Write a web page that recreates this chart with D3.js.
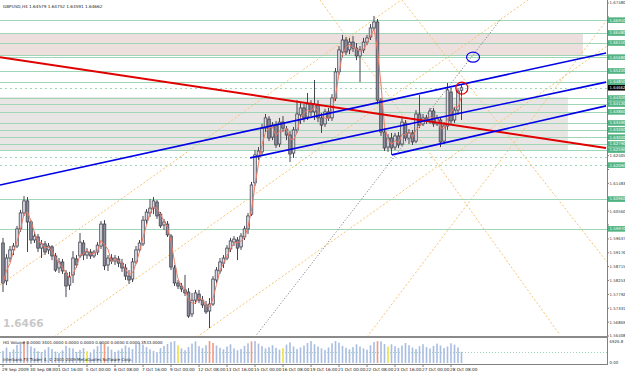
<!DOCTYPE html>
<html><head><meta charset="utf-8">
<script src="https://cdn.jsdelivr.net/npm/d3@7"></script>
<style>
html,body{margin:0;padding:0;background:#fff;overflow:hidden;}
svg{display:block;font-family:"DejaVu Sans",sans-serif;}
</style></head><body>
<svg id="c" width="625" height="372"></svg>
<script>
const titleText = "GBPUSD,H4  1.64579 1.64752 1.63591 1.64662";
const volText = "HG Volume 0.0000 3401.0000 0.0000 0.0000 0.0000 0.0000 0.0000 3533.0000";
const footText = "Interbank FX Trader 4, \u00a9 2001-2009 MetaQuotes Software Corp.";
const watermark = "1.6466";

const open = [1.5950,1.5824,1.5900,1.5927,1.5940,1.5997,1.6050,1.6090,1.6020,1.5960,
1.5970,1.5933,1.5947,1.5927,1.5937,1.5907,1.5867,1.5887,1.5850,1.5810,
1.5844,1.5897,1.5907,1.5950,1.5910,1.5920,1.5907,1.5920,1.5940,1.6013,
1.5877,1.5900,1.5890,1.5897,1.5883,1.5867,1.5840,1.5830,1.5887,1.5927,
1.5947,1.6026,1.6050,1.6066,1.6086,1.6046,1.6010,1.6013,1.5973,1.5867,
1.5817,1.5807,1.5794,1.5787,1.5714,1.5760,1.5780,1.5760,1.5744,1.5724,
1.5747,1.5827,1.5857,1.5883,1.5900,1.5930,1.5953,1.5960,1.5937,1.5970,
1.5997,1.6046,1.6150,1.6236,1.6253,1.6332,1.6362,1.6302,1.6342,1.6279,
1.6352,1.6329,1.6309,1.6249,1.6326,1.6376,1.6399,1.6369,1.6412,1.6386,
1.6409,1.6366,1.6346,1.6386,1.6366,1.6432,1.6519,1.6585,1.6625,1.6592,
1.6618,1.6598,1.6572,1.6592,1.6618,1.6635,1.6665,1.6685,1.6425,1.6319,
1.6269,1.6299,1.6269,1.6306,1.6279,1.6349,1.6299,1.6316,1.6289,1.6379,
1.6346,1.6366,1.6356,1.6389,1.6346,1.6359,1.6289,1.6339,1.6452,1.6359,
1.6392,1.64579];
const high = [1.5967,1.5913,1.5940,1.5950,1.6007,1.6060,1.6106,1.6103,1.6026,1.5987,
1.5980,1.5960,1.5957,1.5950,1.5943,1.5917,1.5900,1.5897,1.5860,1.5854,
1.5923,1.5910,1.5983,1.5960,1.5933,1.5930,1.5927,1.5953,1.6023,1.6026,
1.5910,1.5913,1.5910,1.5907,1.5897,1.5880,1.5860,1.5900,1.5940,1.5960,
1.6040,1.6063,1.6096,1.6103,1.6093,1.6053,1.6030,1.6023,1.5980,1.5877,
1.5827,1.5817,1.5844,1.5800,1.5784,1.5794,1.5794,1.5774,1.5757,1.5767,
1.5840,1.5870,1.5900,1.5910,1.5943,1.5967,1.5973,1.5970,1.5983,1.6007,
1.6050,1.6153,1.6259,1.6269,1.6346,1.6379,1.6372,1.6352,1.6356,1.6366,
1.6372,1.6339,1.6322,1.6336,1.6425,1.6415,1.6412,1.6449,1.6425,1.6492,
1.6425,1.6382,1.6396,1.6399,1.6445,1.6532,1.6605,1.6642,1.6635,1.6632,
1.6638,1.6615,1.6605,1.6632,1.6642,1.6678,1.6705,1.6695,1.6432,1.6332,
1.6312,1.6316,1.6316,1.6319,1.6366,1.6359,1.6329,1.6326,1.6392,1.6442,
1.6379,1.6376,1.6399,1.6399,1.6376,1.6369,1.6352,1.6482,1.6465,1.6402,
1.6465,1.64752];
const low = [1.5787,1.5810,1.5887,1.5910,1.5933,1.5987,1.6040,1.5920,1.5947,1.5950,
1.5920,1.5900,1.5910,1.5913,1.5893,1.5854,1.5850,1.5847,1.5770,1.5794,
1.5817,1.5867,1.5900,1.5893,1.5897,1.5897,1.5900,1.5910,1.5930,1.5860,
1.5857,1.5880,1.5877,1.5870,1.5854,1.5827,1.5814,1.5820,1.5880,1.5920,
1.5940,1.6013,1.6036,1.6046,1.6030,1.6000,1.5993,1.5970,1.5860,1.5807,
1.5797,1.5787,1.5774,1.5701,1.5704,1.5747,1.5750,1.5734,1.5714,1.5667,
1.5741,1.5817,1.5847,1.5867,1.5893,1.5920,1.5940,1.5893,1.5927,1.5960,
1.5980,1.6040,1.6140,1.6226,1.6243,1.6319,1.6289,1.6292,1.6266,1.6269,
1.6322,1.6292,1.6219,1.6233,1.6316,1.6346,1.6352,1.6359,1.6372,1.6359,
1.6352,1.6316,1.6336,1.6356,1.6356,1.6422,1.6509,1.6568,1.6575,1.6578,
1.6585,1.6558,1.6485,1.6582,1.6608,1.6625,1.6658,1.6412,1.6306,1.6256,
1.6253,1.6243,1.6259,1.6266,1.6273,1.6289,1.6279,1.6276,1.6282,1.6332,
1.6339,1.6346,1.6346,1.6336,1.6339,1.6269,1.6279,1.6326,1.6346,1.6349,
1.6376,1.63591];
const close = [1.5817,1.5900,1.5927,1.5940,1.5997,1.6050,1.6090,1.6020,1.5960,1.5973,
1.5933,1.5947,1.5920,1.5940,1.5907,1.5860,1.5887,1.5857,1.5807,1.5837,
1.5900,1.5877,1.5953,1.5910,1.5920,1.5907,1.5920,1.5943,1.6013,1.5874,
1.5900,1.5890,1.5900,1.5883,1.5867,1.5840,1.5827,1.5887,1.5927,1.5950,
1.6026,1.6053,1.6066,1.6090,1.6040,1.6007,1.6020,1.5977,1.5870,1.5817,
1.5807,1.5797,1.5784,1.5707,1.5760,1.5784,1.5760,1.5744,1.5721,1.5747,
1.5830,1.5860,1.5887,1.5900,1.5933,1.5957,1.5963,1.5933,1.5973,1.5997,
1.6040,1.6143,1.6243,1.6256,1.6332,1.6366,1.6299,1.6342,1.6276,1.6352,
1.6332,1.6309,1.6246,1.6326,1.6379,1.6399,1.6366,1.6412,1.6386,1.6412,
1.6366,1.6342,1.6386,1.6366,1.6432,1.6519,1.6592,1.6625,1.6585,1.6618,
1.6598,1.6572,1.6592,1.6618,1.6632,1.6665,1.6685,1.6425,1.6319,1.6266,
1.6299,1.6266,1.6306,1.6276,1.6352,1.6299,1.6316,1.6286,1.6379,1.6342,
1.6366,1.6356,1.6389,1.6346,1.6366,1.6286,1.6339,1.6459,1.6356,1.6392,
1.6455,1.64662];
const volume = [3800,4900,3500,4300,5700,6200,6900,6800,5200,4700,
3700,3400,4200,5000,4400,3600,3100,4000,5400,4800,
4600,3500,4100,4700,3700,3200,4300,5300,6600,6100,
5200,4200,3500,4000,4600,5500,4900,4400,5900,6400,
5800,5000,4300,3800,3400,4700,5400,6000,6600,6900,
5600,4600,4000,5000,6100,6800,5300,4700,5600,6900,
6300,5500,4800,4300,5200,5900,4600,4000,4400,5400,
6200,6800,6900,6100,5300,4600,5000,5600,4800,4200,
4700,5800,6500,5200,4400,4900,5500,6300,6900,5900,
5200,4600,4100,4900,6200,6900,6400,5400,4800,4300,
5000,5900,5200,4600,4200,5600,6600,6900,6800,6000,
5200,5900,5300,4700,5500,6300,5600,4900,4400,5300,
5900,5000,4600,5400,6100,5500,4700,5200,6200,5800,
4900,3533];
const volHighBars = [6,29,59,60,71,107];
const volLowBars = [24,50,80,110];
const volMax = 6926.8;

const dateLabels = ["29 Sep 2009","30 Sep 08:00","1 Oct 16:00","5 Oct 00:00","6 Oct 08:00","7 Oct 16:00",
"9 Oct 00:00","12 Oct 08:00","13 Oct 16:00","15 Oct 00:00","16 Oct 08:00","19 Oct 16:00",
"21 Oct 00:00","22 Oct 08:00","23 Oct 16:00","27 Oct 00:00","28 Oct 08:00"];
const dateEvery = 8;

const priceTicks = [1.56408,1.56869,1.57331,1.57792,1.58253,1.58715,1.59176,1.59637,1.60099,1.60560,
1.61021,1.61483,1.61944,1.62405,1.62867,1.63328,1.63789,1.64251,1.64712,1.65173,
1.65635,1.66096,1.66557,1.67019,1.67480];

const levels = [1.6691,1.6648,1.6615,1.6575,1.6568,1.6522,1.6485,1.6432,1.6412,1.6386,
1.6349,1.6326,1.6302,1.6279,1.6259,1.6096,1.5997];
const dashedLevels = [1.6465,1.6236,1.6209];
const labelledLevels = [1.6691,1.6648,1.6615,1.6568,1.6522,1.6485,1.6432,1.6412,1.6386,
1.6349,1.6326,1.6302,1.6279,1.6259,1.6209,1.6096,1.5997];
const lastPrice = 1.64662;
// zones: [top price, bottom price, end bar]
const zoneTop = [1.6648,1.6575,165.7];
const zoneLow = [1.6435,1.6256,161.4];

// trend lines: [bar0, price0, bar1, price1]
const blueLines = [[-0.86,1.6143,172.3,1.6582],[70.6,1.6233,172.3,1.6485],[111.1,1.6243,172.3,1.6406]];
const redLine = [-0.86,1.6568,172.3,1.6266];
const grayDotted = [[72,1.5638,142,1.6691]];
const orangeLines = [[-0.86,1.5810,113.4,1.6755],[14.57,1.56375,150,1.6758],[55.43,1.56375,191.14,1.6758],
[104,1.56375,176.86,1.6758],[114,1.6758,172.57,1.58868],[90.57,1.6758,159.14,1.56441]];
const blueMark = [134.3,1.6568];
const redMark = [131.1,1.6465];

// ---------- drawing ----------
const W=625,H=372,plotR=607,mainB=337;
const svg=d3.select("#c");
const x=d3.scaleLinear().domain([0,131]).range([3,461.5]);
const y=d3.scaleLinear().domain([1.56408,1.6748]).range([336,3]);
const yv=d3.scaleLinear().domain([0,volMax]).range([363,341]);

svg.append("rect").attr("width",W).attr("height",H).attr("fill","#fff");
const defs=svg.append("defs");
defs.append("clipPath").attr("id","cm").append("rect").attr("x",0).attr("y",0).attr("width",plotR).attr("height",mainB);
defs.append("clipPath").attr("id","cv").append("rect").attr("x",0).attr("y",338).attr("width",plotR).attr("height",26);

const g=svg.append("g").attr("clip-path","url(#cm)");

// zones
[[zoneTop,"#eedfdf"],[zoneLow,"#e9e5e5"]].forEach(([z,c])=>{
  g.append("rect").attr("x",0).attr("y",y(z[0])).attr("width",x(z[2])).attr("height",y(z[1])-y(z[0])).attr("fill",c);
});

// orange dotted lines
g.selectAll(".ol").data(orangeLines).join("line")
 .attr("x1",d=>x(d[0])).attr("y1",d=>y(d[1])).attr("x2",d=>x(d[2])).attr("y2",d=>y(d[3]))
 .attr("stroke","#f6c572").attr("stroke-width",1).attr("stroke-dasharray","2,2");

// horizontal levels
g.selectAll(".lv").data(levels).join("line")
 .attr("x1",0).attr("x2",plotR).attr("y1",d=>Math.round(y(d))+0.5).attr("y2",d=>Math.round(y(d))+0.5)
 .attr("stroke","#9fd6b8").attr("stroke-width",1);
g.selectAll(".dl").data(dashedLevels).join("line")
 .attr("x1",0).attr("x2",plotR).attr("y1",d=>Math.round(y(d))+0.5).attr("y2",d=>Math.round(y(d))+0.5)
 .attr("stroke","#9fd6b8").attr("stroke-width",1).attr("stroke-dasharray","2,3");

// gray dotted
g.selectAll(".gd").data(grayDotted).join("line")
 .attr("x1",d=>x(d[0])).attr("y1",d=>y(d[1])).attr("x2",d=>x(d[2])).attr("y2",d=>y(d[3]))
 .attr("stroke","#707070").attr("stroke-width",1).attr("stroke-dasharray","1,2");

// candles
const idx=d3.range(close.length);
g.selectAll(".wk").data(idx).join("line")
 .attr("x1",i=>x(i)).attr("x2",i=>x(i))
 .attr("y1",i=>y(high[i])).attr("y2",i=>y(low[i]))
 .attr("stroke","#454550").attr("stroke-width",1);
g.selectAll(".bd").data(idx).join("rect")
 .attr("x",i=>x(i)-1.3).attr("width",2.6)
 .attr("y",i=>y(Math.max(open[i],close[i])))
 .attr("height",i=>Math.max(1,Math.abs(y(open[i])-y(close[i]))))
 .attr("fill",i=>close[i]>=open[i]?"#dcdce6":"#8c8c9c")
 .attr("stroke","#454550").attr("stroke-width",0.8);

// moving average (3 bars of close)
const ma = close.map((c,i)=>d3.mean(close.slice(Math.max(0,i-2),i+1)));
g.append("path").attr("d",d3.line().x((d,i)=>x(i)).y(d=>y(d))(ma))
 .attr("fill","none").attr("stroke","#f07a66").attr("stroke-width",1);

// red & blue lines
g.append("line").attr("x1",x(redLine[0])).attr("y1",y(redLine[1])).attr("x2",x(redLine[2])).attr("y2",y(redLine[3]))
 .attr("stroke","#e00000").attr("stroke-width",2);
g.selectAll(".bl").data(blueLines).join("line")
 .attr("x1",d=>x(d[0])).attr("y1",d=>y(d[1])).attr("x2",d=>x(d[2])).attr("y2",d=>y(d[3]))
 .attr("stroke","#0000e6").attr("stroke-width",1.6);

g.append("ellipse").attr("cx",x(blueMark[0])).attr("cy",y(blueMark[1])).attr("rx",6.5).attr("ry",5)
 .attr("fill","none").attr("stroke","#0000e6").attr("stroke-width",1.2);
g.append("circle").attr("cx",x(redMark[0])).attr("cy",y(redMark[1])).attr("r",6)
 .attr("fill","none").attr("stroke","#e00000").attr("stroke-width",1.2);

// watermark & title
svg.append("text").attr("x",3).attr("y",327).text(watermark)
 .attr("font-size",10.5).attr("font-weight","bold").attr("fill","#c9c9c9");
svg.append("text").attr("x",3).attr("y",8).text(titleText).attr("font-size",4.2).attr("fill","#222");

// right axis
svg.append("line").attr("x1",plotR+0.5).attr("x2",plotR+0.5).attr("y1",0).attr("y2",364).attr("stroke","#808080");
const boxYs = labelledLevels.map(p=>y(p)).concat([y(lastPrice)]);
const shownTicks = priceTicks.filter(p=>boxYs.every(b=>Math.abs(b-y(p))>=4.5));
svg.selectAll(".ptk").data(priceTicks).join("line")
 .attr("x1",plotR).attr("x2",plotR+2).attr("y1",d=>y(d)).attr("y2",d=>y(d)).attr("stroke","#808080");
svg.selectAll(".pt").data(shownTicks).join("text")
 .attr("x",609.5).attr("y",d=>y(d)+1.4).text(d=>d.toFixed(5)).attr("font-size",3.9).attr("fill","#333");
const lb=svg.append("g");
labelledLevels.forEach(p=>{
  lb.append("rect").attr("x",plotR+1).attr("y",y(p)-2.8).attr("width",17).attr("height",5.6).attr("fill","#52b382");
  lb.append("text").attr("x",609.5).attr("y",y(p)+1.4).text(p.toFixed(5)).attr("font-size",3.9).attr("fill","#fff");
});
lb.append("rect").attr("x",plotR+1).attr("y",y(lastPrice)-2.8).attr("width",17).attr("height",5.6).attr("fill","#000");
lb.append("text").attr("x",609.5).attr("y",y(lastPrice)+1.4).text(lastPrice.toFixed(5)).attr("font-size",3.9).attr("fill","#fff");

// separator
svg.append("rect").attr("x",0).attr("y",336).attr("width",plotR+1).attr("height",2).attr("fill","#8a8a8a");

// volume panel
const gv=svg.append("g").attr("clip-path","url(#cv)");
gv.append("line").attr("x1",0).attr("x2",plotR).attr("y1",352.5).attr("y2",352.5)
 .attr("stroke","#9fd6b8").attr("stroke-dasharray","1,2");
gv.selectAll(".vb").data(idx).join("rect")
 .attr("x",i=>x(i)-0.8).attr("width",1.6)
 .attr("y",i=>yv(volume[i])).attr("height",i=>yv(0)-yv(volume[i]))
 .attr("fill",i=>volHighBars.includes(i)?"#f29a80":volLowBars.includes(i)?"#f0e040":"#a9bde2");
svg.append("text").attr("x",3).attr("y",343.5).text(volText).attr("font-size",4).attr("fill","#222");
svg.append("text").attr("x",3).attr("y",361).text(footText).attr("font-size",4).attr("fill","#222");
svg.append("text").attr("x",609.5).attr("y",342.5).text("6926.8").attr("font-size",3.9).attr("fill","#333");
svg.append("text").attr("x",609.5).attr("y",364).text("0.00").attr("font-size",3.9).attr("fill","#333");

// bottom axis
svg.append("line").attr("x1",0).attr("x2",plotR+1).attr("y1",364.5).attr("y2",364.5).attr("stroke","#808080");
svg.selectAll(".dt").data(dateLabels).join("text")
 .attr("x",(d,k)=>x(k*dateEvery)-1).attr("y",371).text(d=>d).attr("font-size",4.2).attr("fill","#222");
svg.selectAll(".dtk").data(dateLabels).join("line")
 .attr("x1",(d,k)=>x(k*dateEvery)).attr("x2",(d,k)=>x(k*dateEvery))
 .attr("y1",364).attr("y2",367).attr("stroke","#808080");
</script>
</body></html>
